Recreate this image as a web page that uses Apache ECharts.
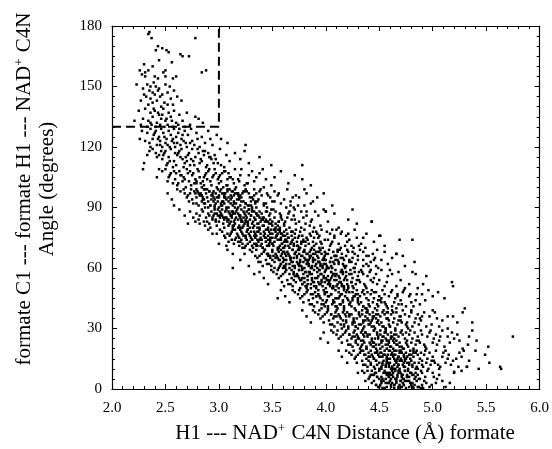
<!DOCTYPE html>
<html>
<head>
<meta charset="utf-8">
<script src="https://cdn.jsdelivr.net/npm/echarts@6/dist/echarts.min.js"></script>
<style>
html,body{margin:0;padding:0;background:#fff;}
#chart{width:552px;height:449px;}
</style>
</head>
<body>
<div id="chart"></div>
<script>
// ---- tick labels / axes ----
const xTicks = [2.0, 2.5, 3.0, 3.5, 4.0, 4.5, 5.0, 5.5, 6.0];
const yTicks = [0, 30, 60, 90, 120, 150, 180];

// ---- dashed box (distance < 3.0 A, angle > 130 deg) ----
const boxX = [2.0, 3.0, 3.0];
const boxY = [130, 130, 180];

// ---- scatter points, flat [distance, angle, distance, angle, ...] ----
const topSparse = [
2.35,177, 2.37,174, 2.78,174, 2.34,176, 2.43,170, 2.41,168, 2.47,169, 2.51,168, 2.53,167, 2.64,166, 2.66,165, 2.72,165, 2.44,163, 2.30,161, 2.56,162, 2.38,160,
2.26,158, 2.31,157, 2.34,158, 2.48,157, 2.50,158, 2.84,157, 2.88,158, 2.28,156, 2.31,155, 2.40,155, 2.43,154, 2.50,155, 2.57,154, 2.60,155, 2.23,151, 2.33,151, 2.36,150, 2.39,152, 2.41,150, 2.50,151, 2.54,150, 2.29,149, 2.35,148, 2.38,147, 2.44,149, 2.47,146, 2.52,147, 2.58,148, 2.32,145, 2.36,144, 2.40,146, 2.42,143, 2.45,145, 2.49,142, 2.55,144, 2.61,145, 2.27,143, 2.34,141, 2.38,142, 2.46,140, 2.52,141, 2.57,141, 2.65,143, 2.30,146, 2.43,148,
2.25,138, 2.31,139, 2.36,137, 2.40,138, 2.44,136, 2.48,139, 2.53,137, 2.58,138, 2.63,136, 2.70,137, 2.78,135, 2.81,134, 2.29,134, 2.34,133, 2.38,135, 2.42,132, 2.46,134, 2.50,133, 2.55,135, 2.60,132, 2.66,133, 2.73,131, 2.27,131, 2.33,130, 2.37,131, 2.41,130, 2.45,131, 2.49,130, 2.52,131, 2.57,130, 2.62,131, 2.68,130, 2.21,133, 2.39,139, 2.47,136, 2.51,134, 2.43,137, 2.36,132, 2.56,133, 2.85,132
];
const armUpper = [
2.28,128, 2.33,127, 2.36,129, 2.39,126, 2.41,128, 2.44,125, 2.46,129, 2.48,127, 2.51,124, 2.53,128, 2.55,126, 2.58,129, 2.60,125, 2.62,127, 2.65,124, 2.68,128, 2.71,126, 2.75,123, 2.79,127, 2.84,125, 2.90,128, 2.98,126, 3.08,122, 3.25,121, 2.31,123, 2.35,122, 2.38,124, 2.42,121, 2.45,123, 2.47,120, 2.50,122, 2.52,121, 2.56,123, 2.59,120, 2.61,122, 2.64,121, 2.67,123, 2.70,120, 2.73,122, 2.77,121, 2.82,120, 2.87,122, 2.94,121, 2.40,127, 2.49,125, 2.57,124, 2.63,129, 2.74,129, 2.36,120, 2.43,124, 2.54,120, 2.66,126, 2.80,124, 3.02,124, 2.26,124, 2.45,121, 2.58,122, 2.69,122, 2.92,124,
2.63,118, 2.48,116, 2.84,113, 2.77,111, 2.55,119, 2.41,117, 2.92,115, 2.66,114, 2.81,117, 2.52,112, 3.02,111, 2.71,116, 2.38,119, 2.87,118, 2.60,111, 2.83,114, 2.35,118, 2.97,114, 2.68,112, 2.53,115,
2.88,110, 2.75,119, 2.47,114, 2.95,112, 2.62,117, 2.86,116, 2.50,118, 3.10,113, 2.70,113, 2.44,116, 2.90,117, 2.58,113, 2.78,115, 3.07,116, 2.65,119, 2.89,111, 2.49,117, 3.01,119, 2.74,114, 2.57,110,
2.80,119, 2.61,116, 2.93,114, 2.42,115, 3.15,117, 2.73,111, 2.54,113, 3.05,110, 2.69,115, 2.85,118, 2.46,118, 2.99,112, 2.76,113, 2.59,117, 3.20,114, 2.72,117, 2.91,115, 2.51,111, 2.96,116, 2.67,110,
3.28,112, 3.38,115, 3.49,111, 3.78,111, 2.33,116, 2.30,112, 2.29,109, 3.24,118, 2.64,115, 2.82,112
];
const armMid = [
2.81,108, 2.64,106, 3.02,103, 2.93,101, 2.70,109, 2.55,107, 3.11,105, 2.78,104, 2.97,107, 2.62,102, 3.24,101, 2.87,106, 2.50,109, 3.06,108, 2.74,101, 2.99,104, 2.47,108, 3.18,104, 2.83,102, 2.67,105,
3.04,100, 2.91,109, 2.59,104, 3.14,102, 2.76,107, 3.01,106, 2.63,108, 3.33,103, 2.85,103, 2.54,106, 3.09,107, 2.72,103, 2.94,105, 3.28,106, 2.80,109, 3.07,101, 2.60,107, 3.21,109, 2.89,104, 2.69,100,
2.96,109, 2.75,106, 3.13,104, 2.53,105, 3.38,107, 2.86,101, 2.66,103, 3.16,100, 2.82,105, 3.05,108, 2.58,108, 3.26,102, 2.92,103, 2.71,107, 3.44,104, 2.88,107, 3.10,105, 2.61,101, 3.20,106, 2.79,102,
2.98,100, 2.44,109, 3.15,109, 2.90,108, 2.68,104, 3.31,108, 2.84,100, 3.03,107, 2.57,102, 3.19,103, 2.95,106, 2.73,108, 3.49,101, 2.77,102, 2.65,106, 3.08,101, 2.79,103, 3.35,105, 3.00,102, 2.52,103,
3.58,108, 3.65,102, 3.78,104, 3.71,106, 3.52,105, 3.86,101, 2.42,105, 3.41,109, 3.00,105, 2.86,105,
3.01,98, 2.82,96, 3.21,93, 3.13,91, 2.89,99, 2.73,97, 3.31,95, 2.96,94, 3.17,97, 2.79,92, 3.42,91, 3.05,96, 2.67,99, 3.26,98, 2.92,91, 3.19,94, 2.64,98, 3.37,94, 3.02,92, 2.85,95,
3.24,90, 3.10,99, 2.75,94, 3.34,92, 2.94,97, 3.20,96, 2.80,98, 3.50,93, 3.04,93, 2.71,96, 3.28,97, 2.90,93, 3.12,95, 3.46,96, 2.99,99, 3.27,91, 2.78,97, 3.39,99, 3.07,94, 2.87,90,
3.15,99, 2.93,96, 3.32,94, 2.70,95, 3.56,97, 3.03,91, 2.84,93, 3.35,90, 2.98,95, 3.23,98, 2.77,98, 3.44,92, 3.09,93, 2.88,97, 3.61,94, 3.06,97, 3.29,95, 2.81,91, 3.40,96, 2.97,92,
3.18,90, 2.61,99, 3.33,99, 3.08,98, 2.86,94, 3.52,98, 3.00,90, 3.22,97, 2.76,92, 3.36,93, 3.14,96, 2.91,98, 3.67,91, 3.11,92, 2.83,96, 3.30,91, 2.95,93, 3.48,95, 3.16,92, 2.72,93,
3.05,95, 3.38,98, 2.90,90, 3.25,99, 2.79,95, 3.45,90, 3.12,98, 2.86,92, 3.72,96, 3.00,96, 3.25,92, 2.68,97, 3.33,96, 3.18,97, 2.83,97, 3.58,92, 2.96,91, 3.30,93, 2.74,99, 3.09,95,
3.75,95, 3.86,92, 3.88,93, 3.98,97, 4.06,91, 4.00,88, 3.80,99, 2.56,94, 2.52,97, 2.58,91, 3.64,99, 3.70,90, 3.92,95, 4.25,89, 3.82,97, 2.95,95, 3.03,97, 3.14,93, 2.87,99, 3.07,90
];
const coreUpper = [
3.12,88, 2.95,86, 3.27,83, 3.41,81, 2.84,89, 3.05,84, 3.18,87, 3.33,85, 2.91,82, 3.56,83, 3.09,81, 2.99,89, 3.22,80, 3.47,86, 2.88,85, 3.14,83, 3.38,88, 3.02,87, 3.25,86, 3.61,81,
2.79,87, 3.07,89, 3.31,82, 2.97,83, 3.16,85, 3.44,84, 3.53,88, 2.93,88, 3.21,84, 3.36,80, 3.11,86, 2.86,83, 3.28,89, 3.68,84, 3.04,82, 3.19,81, 3.49,82, 2.82,86, 3.35,87, 3.01,85,
3.24,82, 3.58,86, 2.90,87, 3.13,80, 3.42,85, 3.06,88, 3.29,84, 2.76,85, 3.72,82, 3.17,89, 3.39,83, 2.98,81, 3.52,85, 3.09,84, 3.26,88, 2.94,84, 3.65,87, 3.20,86, 3.46,80, 3.00,83,
3.33,81, 2.87,81, 3.15,82, 3.57,80, 3.03,86, 3.23,88, 3.40,87, 2.92,80, 3.10,87, 3.30,86, 3.79,85, 2.81,84, 3.18,84, 3.50,83, 3.07,85, 3.37,82, 2.96,87, 3.62,83, 3.27,81, 3.12,85,
2.73,88, 3.45,88, 3.22,83, 3.05,80, 3.34,84, 2.89,83, 3.55,81, 3.16,88, 3.43,83, 2.99,86, 3.28,87, 3.70,86, 3.08,83, 3.38,85, 2.85,88, 3.20,80, 3.59,84, 3.01,88, 3.31,89, 3.14,81,
3.48,87, 2.94,85, 3.25,84, 3.66,80, 3.11,83, 3.36,86, 2.78,83, 3.19,86, 3.53,82, 3.04,85, 3.29,80, 3.75,83, 2.97,84, 3.41,84, 3.13,87, 3.64,85, 2.91,86, 3.23,85, 3.51,89, 3.32,83,
3.85,81, 3.93,86, 4.02,83, 4.12,80, 4.21,84, 4.29,82, 3.98,89, 3.82,88, 4.08,87, 3.89,80, 2.68,86, 2.71,82, 2.63,89, 4.43,83, 3.77,88, 3.87,84, 4.00,88, 3.81,82, 3.71,89, 3.95,81,
3.42,78, 3.18,76, 3.63,73, 3.51,71, 3.27,79, 3.08,77, 3.74,75, 3.36,74, 3.55,77, 3.22,72, 3.89,71, 3.46,76, 3.13,79, 3.68,78, 3.31,71, 3.58,74, 3.03,78, 3.83,74, 3.40,72, 3.25,75,
3.66,70, 3.49,79, 3.15,74, 3.77,72, 3.34,77, 3.60,76, 3.21,78, 3.95,73, 3.44,73, 3.10,76, 3.71,77, 3.29,73, 3.53,75, 3.86,76, 3.38,79, 3.62,71, 3.17,77, 3.80,79, 3.48,74, 3.24,70,
3.57,79, 3.33,76, 3.69,74, 3.06,75, 3.92,77, 3.45,71, 3.20,73, 3.75,70, 3.39,75, 3.61,78, 3.12,78, 3.84,72, 3.52,73, 3.28,77, 3.99,74, 3.43,77, 3.65,75, 3.19,71, 3.78,76, 3.35,72,
3.56,70, 3.01,79, 3.72,79, 3.47,78, 3.26,74, 3.88,78, 3.41,70, 3.64,77, 3.14,72, 3.81,73, 3.54,76, 3.30,78, 4.04,71, 3.50,72, 3.23,76, 3.70,71, 3.37,73, 3.93,75, 3.59,72, 3.09,73,
3.46,74, 3.76,78, 3.32,70, 3.63,79, 3.16,75, 3.87,70, 3.53,78, 3.27,72, 4.08,76, 3.42,76, 3.67,72, 3.05,76, 3.79,74, 3.58,77, 3.21,74, 3.96,79, 3.39,71, 3.73,73, 3.11,77, 3.48,75,
3.85,77, 3.60,70, 3.29,76, 3.44,79, 3.68,76, 3.18,73, 3.91,72, 3.55,74, 3.34,75, 3.74,71, 3.07,71, 3.50,77, 3.82,75, 3.26,78, 3.62,74, 4.01,78, 3.40,74, 3.71,75, 3.15,79, 3.57,71,
3.36,78, 3.77,73, 3.22,70, 3.64,73, 3.47,72, 3.94,70, 3.31,74, 3.58,75, 3.12,74, 3.81,71, 3.52,79, 3.25,71, 3.69,78, 3.43,75, 4.06,73, 3.19,75, 3.89,75, 3.61,73, 3.35,71, 3.75,76,
4.15,78, 4.22,74, 4.31,71, 4.12,72, 4.38,77, 4.19,76, 4.27,79, 4.45,73, 4.51,76, 4.69,74, 4.10,79, 2.98,77, 2.94,77, 2.90,79, 3.00,72, 4.55,71, 4.24,71, 4.35,75, 4.14,70, 4.04,77,
2.82,82, 4.81,74, 4.43,83, 4.50,76, 4.66,67
];
const coreMid = [
3.72,68, 3.51,66, 3.93,63, 3.84,61, 3.58,69, 3.40,67, 4.05,65, 3.67,64, 3.88,67, 3.47,62, 4.17,61, 3.78,66, 3.35,69, 3.99,68, 3.62,61, 3.90,64, 3.31,68, 4.11,64, 3.74,62, 3.55,65,
3.97,60, 3.80,69, 3.44,64, 4.08,62, 3.65,67, 3.92,66, 3.50,68, 4.24,63, 3.76,63, 3.38,66, 4.02,67, 3.60,63, 3.85,65, 4.19,66, 3.69,69, 3.95,61, 3.46,67, 4.13,69, 3.81,64, 3.56,60,
3.89,69, 3.63,66, 4.00,64, 3.36,65, 4.27,67, 3.77,61, 3.52,63, 4.06,60, 3.70,65, 3.94,68, 3.42,68, 4.16,62, 3.83,63, 3.59,67, 4.30,64, 3.75,67, 3.98,65, 3.49,61, 4.10,66, 3.66,62,
3.87,60, 3.29,69, 4.03,69, 3.79,68, 3.57,64, 4.21,68, 3.71,60, 3.96,67, 3.45,62, 4.12,63, 3.86,66, 3.61,68, 4.35,61, 3.82,62, 3.54,66, 4.01,61, 3.68,63, 4.25,65, 3.91,62, 3.39,63,
3.76,64, 4.07,68, 3.62,60, 3.95,69, 3.48,65, 4.18,60, 3.85,68, 3.58,62, 4.38,66, 3.73,66, 4.00,62, 3.34,66, 4.09,64, 3.90,67, 3.53,67, 4.28,62, 3.69,61, 4.04,63, 3.43,69, 3.80,65,
4.15,67, 3.92,60, 3.60,65, 3.74,69, 3.99,66, 3.50,64, 4.22,64, 3.84,64, 3.64,68, 4.05,61, 3.41,61, 3.79,63, 4.32,69, 3.67,65, 3.94,63, 3.55,69, 4.11,68, 3.87,61, 3.63,62, 3.97,64,
3.46,66, 4.14,65, 3.78,60, 3.88,63, 4.20,69, 3.57,61, 4.02,60, 3.71,67, 4.26,60, 3.83,67, 3.37,63, 4.08,66, 3.66,66, 3.93,65, 3.52,60, 4.17,64, 3.75,61, 3.98,62, 3.61,64, 3.86,69,
4.44,67, 4.52,64, 4.40,61, 4.48,69, 4.58,62, 4.66,67, 4.62,65, 4.83,63, 4.42,63, 4.46,65, 3.13,67, 3.20,64, 3.24,67, 3.08,69, 3.28,61, 4.74,61, 4.55,68, 4.35,68, 4.72,66, 4.49,60,
3.92,58, 3.71,56, 4.13,53, 4.04,51, 3.78,59, 3.60,57, 4.25,55, 3.87,54, 4.08,57, 3.67,52, 4.37,51, 3.98,56, 3.55,59, 4.19,58, 3.82,51, 4.10,54, 3.51,58, 4.31,54, 3.94,52, 3.75,55,
4.17,50, 4.00,59, 3.64,54, 4.28,52, 3.85,57, 4.12,56, 3.70,58, 4.44,53, 3.96,53, 3.58,56, 4.22,57, 3.80,53, 4.05,55, 4.39,56, 3.89,59, 4.15,51, 3.66,57, 4.33,59, 4.01,54, 3.76,50,
4.09,59, 3.83,56, 4.20,54, 3.56,55, 4.47,57, 3.97,51, 3.72,53, 4.26,50, 3.90,55, 4.14,58, 3.62,58, 4.36,52, 4.03,53, 3.79,57, 4.50,54, 3.95,57, 4.18,55, 3.69,51, 4.30,56, 3.86,52,
4.07,50, 3.49,59, 4.23,59, 3.99,58, 3.77,54, 4.41,58, 3.91,50, 4.16,57, 3.65,52, 4.32,53, 4.06,56, 3.81,58, 4.55,51, 4.02,52, 3.74,56, 4.21,51, 3.88,53, 4.45,55, 4.11,52, 3.59,53,
3.96,54, 4.27,58, 3.82,50, 4.15,59, 3.68,55, 4.38,50, 4.05,58, 3.78,52, 4.58,56, 3.93,56, 4.20,52, 3.54,57, 4.29,54, 4.10,57, 3.73,57, 4.48,52, 3.89,51, 4.24,53, 3.63,59, 4.00,55,
4.35,57, 4.12,50, 3.80,55, 3.94,59, 4.19,56, 3.70,54, 4.42,54, 4.04,54, 3.84,58, 4.25,51, 3.61,51, 3.99,53, 4.52,59, 3.87,55, 4.14,53, 3.75,59, 4.31,58, 4.07,51, 3.83,52, 4.17,54,
4.62,57, 4.70,54, 4.66,51, 4.60,59, 4.78,52, 4.94,56, 4.91,52, 4.81,58, 4.84,57, 5.18,53, 5.19,51, 3.42,55, 3.46,52, 3.38,58, 3.33,57, 4.74,50, 4.57,53, 4.68,58, 4.86,50, 3.13,60
];
const coreLower = [
4.12,48, 3.91,46, 4.33,43, 4.24,41, 3.98,49, 3.80,47, 4.45,45, 4.07,44, 4.28,47, 3.87,42, 4.57,41, 4.18,46, 3.75,49, 4.39,48, 4.02,41, 4.30,44, 3.71,48, 4.51,44, 4.14,42, 3.95,45,
4.37,40, 4.20,49, 3.84,44, 4.48,42, 4.05,47, 4.32,46, 3.90,48, 4.64,43, 4.16,43, 3.78,46, 4.42,47, 4.00,43, 4.25,45, 4.59,46, 4.09,49, 4.35,41, 3.86,47, 4.53,49, 4.21,44, 3.96,40,
4.29,49, 4.03,46, 4.40,44, 3.76,45, 4.67,47, 4.17,41, 3.92,43, 4.46,40, 4.10,45, 4.34,48, 3.82,48, 4.56,42, 4.23,43, 3.99,47, 4.70,44, 4.15,47, 4.38,45, 3.89,41, 4.50,46, 4.06,42,
4.27,40, 3.69,49, 4.43,49, 4.19,48, 3.97,44, 4.61,48, 4.11,40, 4.36,47, 3.85,42, 4.52,43, 4.26,46, 4.01,48, 4.75,41, 4.22,42, 3.94,46, 4.41,41, 4.08,43, 4.65,45, 4.31,42, 3.79,43,
4.16,44, 4.47,48, 4.02,40, 4.35,49, 3.88,45, 4.58,40, 4.25,48, 3.98,42, 4.78,46, 4.13,46, 4.40,42, 3.74,47, 4.49,44, 4.30,47, 3.93,47, 4.68,42, 4.09,41, 4.44,43, 3.83,49, 4.20,45,
4.85,47, 4.93,44, 4.82,41, 4.96,49, 5.00,46, 5.11,45, 4.88,42, 5.05,48, 3.62,46, 3.58,49, 3.66,43, 3.55,45, 4.72,48, 4.80,43, 5.30,40, 4.62,41, 4.55,47, 4.73,49, 4.90,47, 4.12,45,
4.31,38, 4.10,36, 4.52,33, 4.43,31, 4.17,39, 3.99,37, 4.64,35, 4.26,34, 4.47,37, 4.06,32, 4.76,31, 4.37,36, 3.94,39, 4.58,38, 4.21,31, 4.49,34, 3.90,38, 4.70,34, 4.33,32, 4.14,35,
4.56,30, 4.39,39, 4.03,34, 4.67,32, 4.24,37, 4.51,36, 4.09,38, 4.83,33, 4.35,33, 3.97,36, 4.61,37, 4.19,33, 4.44,35, 4.78,36, 4.28,39, 4.54,31, 4.05,37, 4.72,39, 4.40,34, 4.15,30,
4.48,39, 4.22,36, 4.59,34, 3.95,35, 4.86,37, 4.36,31, 4.11,33, 4.65,30, 4.29,35, 4.53,38, 4.01,38, 4.75,32, 4.42,33, 4.18,37, 4.89,34, 4.34,37, 4.57,35, 4.08,31, 4.69,36, 4.25,32,
4.46,30, 3.88,39, 4.62,39, 4.38,38, 4.16,34, 4.80,38, 4.30,30, 4.55,37, 4.04,32, 4.71,33, 4.45,36, 4.20,38, 4.94,31, 4.41,32, 4.13,36, 4.60,31, 4.27,33, 4.84,35, 4.50,32, 3.98,33,
4.35,34, 4.66,38, 4.21,30, 4.54,39, 4.07,35, 4.77,30, 4.44,38, 4.17,32, 4.97,36, 4.32,36, 4.59,32, 3.93,37, 4.68,34, 4.49,37, 4.12,37, 4.87,32, 4.28,31, 4.63,33, 4.02,39, 4.39,35,
5.02,38, 5.09,34, 5.14,36, 5.19,36, 5.06,31, 5.23,33, 5.37,33, 5.14,30, 5.00,39, 3.82,36, 3.78,39, 3.86,33, 4.92,38, 4.99,32, 5.28,38, 4.81,31, 4.74,37, 4.90,36, 5.04,35, 4.57,35
];
const baseCluster = [
4.48,28, 4.27,26, 4.69,23, 4.60,21, 4.34,29, 4.16,27, 4.81,25, 4.43,24, 4.64,27, 4.23,22, 4.93,21, 4.54,26, 4.11,29, 4.75,28, 4.38,21, 4.66,24, 4.07,28, 4.87,24, 4.50,22, 4.31,25,
4.73,20, 4.56,29, 4.20,24, 4.84,22, 4.41,27, 4.68,26, 4.26,28, 5.00,23, 4.52,23, 4.14,26, 4.78,27, 4.36,23, 4.61,25, 4.95,26, 4.45,29, 4.71,21, 4.22,27, 4.89,29, 4.57,24, 4.32,20,
4.65,29, 4.39,26, 4.76,24, 4.12,25, 5.03,27, 4.53,21, 4.28,23, 4.82,20, 4.46,25, 4.70,28, 4.18,28, 4.92,22, 4.59,23, 4.35,27, 5.06,24, 4.51,27, 4.74,25, 4.25,21, 4.86,26, 4.42,22,
4.63,20, 4.05,29, 4.79,29, 4.55,28, 4.33,24, 4.97,28, 4.47,20, 4.72,27, 4.21,22, 4.88,23, 4.62,26, 4.37,28, 5.11,21, 4.58,22, 4.30,26, 4.77,21, 4.44,23, 5.01,25, 4.67,22, 4.15,23,
4.52,24, 4.83,28, 4.38,20, 4.71,29, 4.24,25, 4.94,20, 4.61,28, 4.34,22, 5.14,26, 4.49,26, 4.76,22, 4.10,27, 4.85,24, 4.66,27, 4.29,27, 5.04,22, 4.45,21, 4.80,23, 4.19,29, 4.56,25,
4.62,18, 4.41,16, 4.83,13, 4.74,11, 4.48,19, 4.30,17, 4.95,15, 4.57,14, 4.78,17, 4.37,12, 5.07,11, 4.68,16, 4.26,19, 4.89,18, 4.52,11, 4.80,14, 4.22,18, 5.01,14, 4.64,12, 4.45,15,
4.86,10, 4.70,19, 4.34,14, 4.98,12, 4.55,17, 4.82,16, 4.40,18, 5.12,13, 4.66,13, 4.28,16, 4.92,17, 4.50,13, 4.75,15, 5.09,16, 4.59,19, 4.85,11, 4.36,17, 5.03,19, 4.71,14, 4.46,10,
4.79,19, 4.53,16, 4.90,14, 4.27,15, 5.15,17, 4.67,11, 4.42,13, 4.96,10, 4.60,15, 4.84,18, 4.32,18, 5.05,12, 4.73,13, 4.49,17, 5.19,14, 4.65,17, 4.88,15, 4.39,11, 5.00,16, 4.56,12,
4.77,10, 4.19,19, 4.93,19, 4.69,18, 4.47,14, 5.10,18, 4.61,10, 4.86,17, 4.35,12, 5.02,13, 4.76,16, 4.51,18, 5.24,11, 4.72,12, 4.44,16, 4.91,11, 4.58,13, 5.14,15, 4.81,12, 4.29,13,
4.66,14, 4.97,18, 4.52,10, 4.85,19, 4.38,15, 5.06,10, 4.75,18, 4.48,12, 5.27,16, 4.63,16, 4.90,12, 4.24,17, 4.99,14, 4.80,17, 4.43,17, 5.17,12, 4.59,11, 4.94,13, 4.33,19, 4.70,15,
4.54,14, 4.68,12, 4.61,17, 4.73,16, 4.57,15, 4.64,19, 4.50,16, 4.69,14, 4.55,19, 4.78,13, 4.46,18, 4.62,11, 4.71,18, 4.53,12, 4.67,15, 4.58,17, 4.82,19, 4.65,10, 4.60,13, 4.74,15,
4.63,8, 4.48,6, 4.79,3, 4.71,1, 4.55,9, 4.42,7, 4.88,5, 4.60,4, 4.76,7, 4.51,2, 4.97,1, 4.67,6, 4.39,9, 4.84,8, 4.57,1, 4.74,4, 4.36,8, 4.92,4, 4.64,2, 4.50,5,
4.82,0.5, 4.69,9, 4.45,4, 4.90,2, 4.58,7, 4.78,6, 4.47,8, 5.03,3, 4.66,3, 4.41,6, 4.86,7, 4.56,3, 4.73,5, 5.01,6, 4.62,9, 4.81,1, 4.44,7, 4.95,9, 4.70,4, 4.53,0.5,
4.77,9, 4.59,6, 4.85,4, 4.40,5, 5.06,7, 4.68,1, 4.52,3, 4.91,0.5, 4.65,5, 4.80,8, 4.46,8, 4.99,2, 4.72,3, 4.57,7, 5.09,4, 4.67,7, 4.83,5, 4.49,1, 4.93,6, 4.61,2,
4.75,0.5, 4.34,9, 4.89,9, 4.70,8, 4.54,4, 5.00,8, 4.64,0.5, 4.82,7, 4.47,2, 4.94,3, 4.76,6, 4.58,8, 5.12,1, 4.73,2, 4.52,6, 4.87,1, 4.62,3, 5.04,5, 4.80,2, 4.43,3,
4.66,4, 4.60,7, 4.71,6, 4.56,5, 4.68,8, 4.63,6, 4.74,9, 4.59,3, 4.69,2, 4.78,4, 4.65,9, 4.54,8, 4.72,7, 4.61,5, 4.30,8, 4.37,4
];
const ridgeFill = [
2.86,99, 3.05,97, 2.94,96, 3.13,98, 2.81,97, 3.00,95, 3.18,96, 2.91,98, 3.08,99, 2.97,97, 3.21,95, 2.84,96, 3.11,96, 3.02,99, 2.89,95, 3.15,97, 2.95,98, 3.06,95, 2.79,99, 3.24,98,
2.93,94, 3.14,92, 3.02,91, 3.23,93, 2.87,92, 3.09,90, 3.28,91, 2.99,93, 3.17,94, 3.05,92, 3.31,90, 2.92,91, 3.20,91, 3.11,94, 2.96,90, 3.25,92, 3.03,93, 3.15,90, 2.85,94, 3.34,93,
3.03,89, 3.24,87, 3.12,86, 3.33,88, 2.98,87, 3.20,85, 3.37,86, 3.09,88, 3.28,89, 3.15,87, 3.41,85, 3.01,86, 3.30,86, 3.21,89, 3.06,85, 3.35,87, 3.13,88, 3.26,85, 2.96,89, 3.44,88,
3.15,84, 3.36,82, 3.23,81, 3.45,83, 3.10,82, 3.32,80, 3.50,81, 3.21,83, 3.40,84, 3.27,82, 3.53,80, 3.13,81, 3.42,81, 3.34,84, 3.18,80, 3.47,82, 3.25,83, 3.38,80, 3.08,84, 3.56,83,
3.27,79, 3.48,77, 3.35,76, 3.57,78, 3.22,77, 3.44,75, 3.62,76, 3.33,78, 3.52,79, 3.39,77, 3.65,75, 3.25,76, 3.54,76, 3.46,79, 3.30,75, 3.59,77, 3.37,78, 3.50,75, 3.20,79, 3.68,78,
3.38,74, 3.59,72, 3.47,71, 3.68,73, 3.33,72, 3.55,70, 3.73,71, 3.44,73, 3.63,74, 3.50,72, 3.76,70, 3.36,71, 3.65,71, 3.57,74, 3.41,70, 3.70,72, 3.48,73, 3.61,70, 3.31,74, 3.79,73,
3.50,69, 3.71,67, 3.58,66, 3.80,68, 3.45,67, 3.67,65, 3.85,66, 3.56,68, 3.75,69, 3.62,67, 3.88,65, 3.48,66, 3.77,66, 3.69,69, 3.53,65, 3.82,67, 3.60,68, 3.73,65, 3.43,69, 3.91,68,
3.63,64, 3.84,62, 3.71,61, 3.93,63, 3.58,62, 3.80,60, 3.97,61, 3.69,63, 3.88,64, 3.75,62, 4.01,60, 3.61,61, 3.90,61, 3.82,64, 3.66,60, 3.95,62, 3.73,63, 3.86,60, 3.56,64, 4.04,63,
3.75,59, 3.96,57, 3.83,56, 4.05,58, 3.70,57, 3.92,55, 4.09,56, 3.81,58, 4.00,59, 3.87,57, 4.13,55, 3.73,56, 4.02,56, 3.94,59, 3.78,55, 4.07,57, 3.85,58, 3.98,55, 3.68,59, 4.16,58,
3.83,54, 4.04,52, 3.91,51, 4.13,53, 3.78,52, 4.00,50, 4.17,51, 3.89,53, 4.08,54, 3.95,52, 4.21,50, 3.81,51, 4.10,51, 4.02,54, 3.86,50, 4.15,52, 3.93,53, 4.06,50, 3.76,54, 4.24,53,
3.93,49, 4.14,47, 4.02,46, 4.22,48, 3.88,47, 4.09,45, 4.27,46, 3.99,48, 4.17,49, 4.05,47, 4.30,45, 3.91,46,
4.01,44, 4.22,42, 4.10,41, 4.30,43, 3.96,42, 4.17,40, 4.35,41, 4.07,43, 4.25,44, 4.13,42, 4.38,40, 3.99,41,
4.10,39, 4.31,37, 4.19,36, 4.39,38, 4.05,37, 4.26,35, 4.44,36, 4.16,38, 4.34,39, 4.22,37, 4.47,35, 4.08,36,
4.19,34, 4.40,32, 4.28,31, 4.48,33, 4.14,32, 4.35,30, 4.53,31, 4.25,33, 4.43,34, 4.31,32, 4.56,30, 4.17,31, 4.45,31, 4.37,34,
4.27,29, 4.48,27, 4.36,26, 4.56,28, 4.22,27, 4.43,25, 4.61,26, 4.33,28, 4.51,29, 4.39,27, 4.64,25, 4.25,26, 4.53,26, 4.45,29, 4.30,25, 4.58,27, 4.37,28, 4.49,25,
4.35,24, 4.56,22, 4.44,21, 4.64,23, 4.30,22, 4.51,20, 4.69,21, 4.41,23, 4.59,24, 4.47,22, 4.72,20, 4.33,21, 4.61,21, 4.53,24, 4.38,20, 4.66,22, 4.45,23, 4.57,20, 4.28,24, 4.75,23,
4.42,19, 4.63,17, 4.51,16, 4.71,18, 4.37,17, 4.58,15, 4.76,16, 4.48,18, 4.66,19, 4.54,17, 4.79,15, 4.40,16, 4.68,16, 4.60,19, 4.45,15, 4.73,17, 4.52,18, 4.64,15, 4.35,19, 4.82,18, 4.57,16, 4.69,19,
4.47,14, 4.68,12, 4.56,11, 4.76,13, 4.42,12, 4.63,10, 4.81,11, 4.53,13, 4.71,14, 4.59,12, 4.84,10, 4.45,11, 4.73,11, 4.65,14, 4.50,10, 4.78,12, 4.57,13, 4.69,10, 4.40,14, 4.87,13, 4.62,11, 4.74,14,
4.50,9, 4.71,7, 4.59,6, 4.79,8, 4.45,7, 4.66,5, 4.84,6, 4.56,8, 4.74,9, 4.62,7, 4.87,5, 4.48,6, 4.76,6, 4.68,9, 4.53,5, 4.81,7, 4.60,8, 4.72,5, 4.43,9, 4.90,8,
4.52,4, 4.73,2, 4.61,1, 4.81,3, 4.47,2, 4.68,0.5, 4.86,1, 4.58,3, 4.76,4, 4.64,2, 4.89,0.5, 4.50,1, 4.78,1, 4.70,4, 4.55,0.5, 4.83,2
];
const shoulder = [
4.02,74, 4.18,71, 3.91,78, 4.25,68, 4.09,66, 4.33,72, 3.97,70, 4.14,77, 4.40,66, 4.06,79, 4.22,63, 3.88,73, 4.29,75, 4.11,69, 3.94,76, 4.37,70, 4.00,67, 4.20,73, 4.45,64, 4.16,65,
4.27,60, 4.05,72, 4.34,58, 3.99,64, 4.19,61, 4.42,59, 4.08,75, 4.30,66, 3.93,68, 4.24,57, 4.12,62, 4.38,62, 4.03,60, 4.21,77, 4.47,61, 3.96,72, 4.15,59, 4.35,64, 4.07,63, 4.26,70,
3.52,93, 3.66,88, 3.45,97, 3.74,91, 3.58,85, 3.82,86, 3.49,89, 3.69,95, 3.61,82, 3.77,80, 3.55,96, 3.86,83, 3.42,92, 3.71,84, 3.63,90, 3.90,88, 3.48,84, 3.80,91, 3.67,93, 3.57,87,
4.52,45, 4.63,38, 4.45,48, 4.71,42, 4.58,35, 4.80,39, 4.49,41, 4.67,46, 4.60,31, 4.76,33, 4.55,43, 4.84,44, 4.41,37, 4.70,36, 4.62,49, 4.88,35, 4.48,33, 4.79,47, 4.66,40, 4.57,38,
3.35,97, 3.27,102, 3.19,95, 3.42,100, 3.08,104, 3.31,88, 3.46,83, 3.55,79, 3.60,60, 3.70,57
];
const farTail = [
5.18,28, 5.23,27, 5.33,22, 5.25,24, 5.37,29, 5.34,26, 5.52,21, 5.75,26, 5.09,29, 5.16,23, 5.28,20, 3.98,28, 3.95,25, 4.02,23, 5.41,24, 5.20,25, 4.98,29, 5.07,26, 4.90,27, 4.63,24,
5.25,18, 5.32,11, 5.20,8.5, 5.43,10, 5.49,17, 5.53,13, 5.63,11, 5.64,10, 5.34,14, 5.40,19, 4.15,16, 4.12,19, 4.20,13, 5.22,15, 5.29,19, 5.12,19, 5.16,3, 5.20,8, 5.27,9, 5.32,11
];

function pairs(flat) {
  const out = [];
  for (let i = 0; i + 1 < flat.length; i += 2) out.push([flat[i], flat[i + 1]]);
  return out;
}
const allPoints = [].concat(
  pairs(topSparse), pairs(armUpper), pairs(armMid), pairs(coreUpper),
  pairs(coreMid), pairs(coreLower), pairs(baseCluster), pairs(ridgeFill),
  pairs(shoulder), pairs(farTail)
);
const boxData = boxX.map((x, i) => [x, boxY[i]]);

const FONT = '"Liberation Serif", "Times New Roman", serif';
const chart = echarts.init(document.getElementById('chart'), null, { renderer: 'canvas' });

function xAxisCfg(pos, showLabel) {
  return {
    type: 'value', position: pos, min: xTicks[0], max: xTicks[xTicks.length - 1],
    interval: xTicks[1] - xTicks[0],
    axisLine: { show: true, onZero: false, lineStyle: { color: '#000', width: 1.2 } },
    axisTick: { show: true, inside: true, length: 5, lineStyle: { color: '#000', width: 1 } },
    minorTick: { show: true, splitNumber: 5, length: 3, lineStyle: { color: '#000', width: 1 } },
    splitLine: { show: false },
    axisLabel: {
      show: showLabel, margin: 12, color: '#000', fontFamily: FONT, fontSize: 15,
      formatter: v => v.toFixed(1)
    }
  };
}
function yAxisCfg(pos, showLabel) {
  return {
    type: 'value', position: pos, min: yTicks[0], max: yTicks[yTicks.length - 1],
    interval: yTicks[1] - yTicks[0],
    axisLine: { show: true, onZero: false, lineStyle: { color: '#000', width: 1.2 } },
    axisTick: { show: true, inside: true, length: 5, lineStyle: { color: '#000', width: 1 } },
    minorTick: { show: true, splitNumber: 6, length: 3, lineStyle: { color: '#000', width: 1 } },
    splitLine: { show: false },
    axisLabel: { show: showLabel, margin: 10, color: '#000', fontFamily: FONT, fontSize: 15 }
  };
}

const rich = {
  n: { fontFamily: FONT, fontSize: 21, color: '#000' },
  s: { fontFamily: FONT, fontSize: 13, color: '#000', verticalAlign: 'top', padding: [0, 1, 0, 0] }
};

chart.setOption({
  animation: false,
  backgroundColor: '#fff',
  grid: { left: 112, right: 12, top: 26, bottom: 60, containLabel: false },
  xAxis: [xAxisCfg('bottom', true), xAxisCfg('top', false)],
  yAxis: [yAxisCfg('left', true), yAxisCfg('right', false)],
  series: [
    {
      type: 'scatter', xAxisIndex: 0, yAxisIndex: 0, data: allPoints,
      symbol: 'rect', symbolSize: 2.5, itemStyle: { color: '#000', opacity: 1 },
      emphasis: { disabled: true }, silent: true, large: false
    },
    {
      type: 'line', xAxisIndex: 0, yAxisIndex: 0, data: boxData,
      symbol: 'none', silent: true,
      lineStyle: { color: '#000', width: 2, type: [9, 5] }
    }
  ],
  graphic: [
    {
      type: 'text', x: 345, y: 433,
      style: {
        text: '{n|H1 --- NAD}{s|+}{n| C4N Distance (Å) formate}',
        rich: rich, textAlign: 'center', textVerticalAlign: 'middle'
      }
    },
    {
      type: 'text', x: 24, y: 189, rotation: Math.PI / 2,
      style: {
        text: '{n|formate C1 --- formate H1 --- NAD}{s|+}{n| C4N}',
        rich: rich, textAlign: 'center', textVerticalAlign: 'middle'
      }
    },
    {
      type: 'text', x: 47, y: 189, rotation: Math.PI / 2,
      style: {
        text: '{n|Angle (degrees)}',
        rich: rich, textAlign: 'center', textVerticalAlign: 'middle'
      }
    }
  ]
});
</script>
</body>
</html>
